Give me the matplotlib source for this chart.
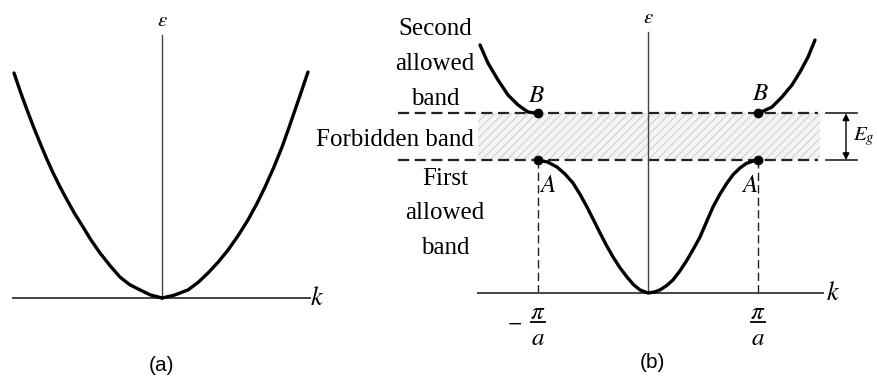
import matplotlib
matplotlib.use("Agg")
import matplotlib.pyplot as plt

plt.rcParams["mathtext.fontset"] = "stix"
plt.rcParams["hatch.linewidth"] = 0.6

# ======================
# DATA
# ======================
# (a) free electron: energy vs k (k in arbitrary units, energy normalised to 1 at the edge)
a_k_left = [-1.0, -0.956, -0.912, -0.868, -0.824, -0.78, -0.736, -0.69, -0.642, -0.59,
            -0.534, -0.48, -0.419, -0.35, -0.284, -0.22, -0.149, -0.08, 0.0]
a_e_left = [1.0, 0.915, 0.836, 0.76, 0.689, 0.62, 0.556, 0.495, 0.436, 0.375,
            0.316, 0.258, 0.200, 0.143, 0.093, 0.060, 0.036, 0.014, 0.0]
a_k_right = [0.0, 0.08, 0.176, 0.245, 0.311, 0.38, 0.446, 0.515, 0.581, 0.64,
             0.696, 0.755, 0.811, 0.855, 0.899, 0.943, 0.986]
a_e_right = [0.0, 0.012, 0.036, 0.07, 0.111, 0.16, 0.213, 0.278, 0.347, 0.418,
             0.493, 0.58, 0.671, 0.752, 0.836, 0.92, 1.004]

# (b) nearly free electron: k in units of pi/a, energy in units of the top of the first band
b1_k = [-1.0, -0.913, -0.827, -0.755, -0.682, -0.618, -0.555, -0.495, -0.436, -0.377,
        -0.318, -0.255, -0.191, -0.132, -0.073, 0.0, 0.055, 0.109, 0.168, 0.227,
        0.291, 0.355, 0.414, 0.473, 0.532, 0.591, 0.655, 0.718, 0.777, 0.836,
        0.895, 0.955, 1.0]
b1_e = [1.0, 0.985, 0.947, 0.895, 0.827, 0.742, 0.647, 0.549, 0.451, 0.357,
        0.271, 0.190, 0.12, 0.063, 0.023, 0.0, 0.007, 0.023, 0.055, 0.098,
        0.167, 0.248, 0.333, 0.421, 0.535, 0.647, 0.745, 0.827, 0.893, 0.940,
        0.975, 0.992, 1.0]
b2_k_left = [-1.527, -1.455, -1.364, -1.273, -1.182, -1.091, -1.0]
b2_e_left = [1.865, 1.729, 1.602, 1.489, 1.414, 1.361, 1.35]
b2_k_right = [1.0, 1.127, 1.218, 1.309, 1.382, 1.455, 1.518]
b2_e_right = [1.35, 1.398, 1.474, 1.564, 1.662, 1.774, 1.902]

zone_edges = [-1.0, 1.0]
band_A = 1.0     # top of first allowed band
band_B = 1.35    # bottom of second allowed band

# ======================
# LAYOUT
# ======================
W, H = 877, 383
fig = plt.figure(figsize=(W / 100, H / 100), dpi=100)


def panel(x0, y0, sx, sy):
    # full-figure axes whose origin sits at pixel (x0, y0) with sx, sy px per unit
    ax = fig.add_axes([0, 0, 1, 1])
    ax.set_xlim(-x0 / sx, (W - x0) / sx)
    ax.set_ylim(-(H - y0) / sy, y0 / sy)
    ax.axis("off")
    return ax


serif = dict(family="Liberation Serif", fontsize=18)
math = dict(fontsize=18)
curve = dict(color="black", lw=2.4, solid_joinstyle="round", solid_capstyle="round")

# ======================
# PANEL (a)
# ======================
ax = panel(162, 298, 148, 225)
ax.plot([-1.007, 1.0], [0, 0], color="#444444", lw=1.4)
ax.plot([0, 0], [0, 1.169], color="#444444", lw=1.0)
ax.plot(a_k_left, a_e_left, **curve)
ax.plot(a_k_right, a_e_right, **curve)
ax.text(0, 1.236, r"$\epsilon$", ha="center", va="center", fontsize=15)
ax.text(1.045, 0.0, r"$k$", ha="center", va="center", fontsize=19)
ax.text(0, -0.298, "(a)", ha="center", va="center", family="Liberation Sans", fontsize=15)

# ======================
# PANEL (b)
# ======================
ax = panel(648, 293, 110, 133)

# forbidden band shading
ax.fill_between([-1.55, 1.56], band_A, band_B, facecolor="#f4f4f4",
                edgecolor="#c4c4c4", hatch="////", lw=0)

# band edges
for lvl in (band_A, band_B):
    ax.plot([-2.27, 1.545], [lvl, lvl], color="#222222", lw=1.6, ls=(0, (5, 2.5)))
    ax.plot([1.618, 1.9], [lvl, lvl], color="#222222", lw=1.2)
ax.annotate("", xy=(1.80, band_B), xytext=(1.80, band_A),
            arrowprops=dict(arrowstyle="<|-|>", color="black", lw=1.0,
                            mutation_scale=10, shrinkA=0, shrinkB=0))
ax.text(1.86, (band_A + band_B) / 2, r"$E_g$", ha="left", va="center", fontsize=15)

# zone boundaries
for kz in zone_edges:
    ax.plot([kz, kz], [0, band_A], color="#222222", lw=1.0, ls=(0, (6, 3)))

# axes
ax.plot([-1.545, 1.59], [0, 0], color="#444444", lw=1.4)
ax.plot([0, 0], [0, 1.962], color="#444444", lw=1.0)
ax.text(0, 2.075, r"$\epsilon$", ha="center", va="center", fontsize=15)
ax.text(1.68, 0.0, r"$k$", ha="center", va="center", fontsize=19)

# bands
ax.plot(b1_k, b1_e, **curve)
ax.plot(b2_k_left, b2_e_left, **curve)
ax.plot(b2_k_right, b2_e_right, **curve)
ax.plot(zone_edges, [band_A, band_A], "o", color="black", ms=6)
ax.plot(zone_edges, [band_B, band_B], "o", color="black", ms=6)

# point labels
ax.text(-1.01, 1.49, r"$B$", ha="center", va="center", **math)
ax.text(1.018, 1.504, r"$B$", ha="center", va="center", **math)
ax.text(-0.909, 0.812, r"$A$", ha="center", va="center", **math)
ax.text(0.927, 0.812, r"$A$", ha="center", va="center", **math)

# band labels
ax.text(-1.936, 1.72, "Second\nallowed\nband", ha="center", va="center",
        linespacing=1.75, **serif)
ax.text(-2.3, 1.15, "Forbidden band", ha="center", va="center", **serif)
ax.text(-1.845, 0.598, "First\nallowed\nband", ha="center", va="center",
        linespacing=1.75, **serif)

# zone boundary tick labels: pi over a
for kz in zone_edges:
    ax.text(kz, -0.14, r"$\pi$", ha="center", va="center", fontsize=18)
    ax.plot([kz - 0.068, kz + 0.068], [-0.218, -0.218], color="black", lw=1.3)
    ax.text(kz, -0.338, r"$a$", ha="center", va="center", fontsize=18)
ax.text(-1.21, -0.218, r"$-$", ha="center", va="center", fontsize=15)
ax.text(0.036, -0.519, "(b)", ha="center", va="center", family="Liberation Sans", fontsize=15)

fig.savefig("out.png", dpi=100)
